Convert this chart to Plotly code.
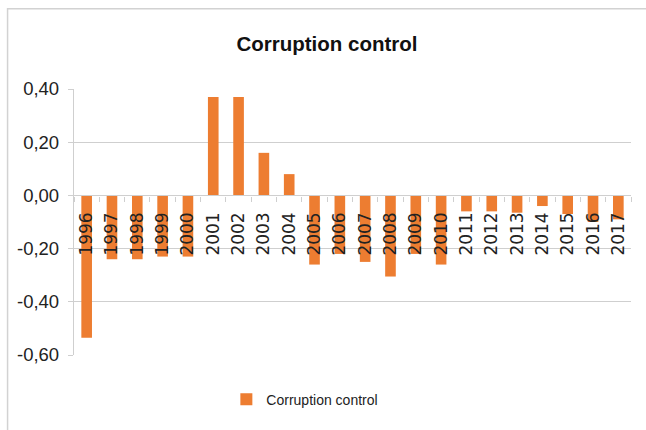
import plotly.graph_objects as go

years = [str(y) for y in range(1996, 2018)]
values = [-0.535, -0.24, -0.24, -0.23, -0.23, 0.37, 0.37, 0.16, 0.08, -0.26,
          -0.22, -0.25, -0.305, -0.22, -0.26, -0.06, -0.06, -0.065, -0.04,
          -0.07, -0.10, -0.09]
series_name = "Corruption control"
y_ticks = [0.4, 0.2, 0.0, -0.2, -0.4, -0.6]
y_tick_text = ["0,40", "0,20", "0,00", "-0,20", "-0,40", "-0,60"]

W, H = 646, 430
L, R, T, B = 73.5, 15, 89.3, 74.7
pw, ph = W - L - R, H - T - B

def px_x(p):
    return (p - L) / pw

def px_y(p):
    return (H - B - p) / ph

fig = go.Figure()
fig.add_trace(go.Bar(x=years, y=values, name=series_name,
                     marker=dict(color="#ED7D31", line=dict(width=0)),
                     showlegend=True))

grid = "#cfcfcf"
fig.update_layout(
    width=W, height=H,
    margin=dict(l=L, r=R, t=T, b=B, autoexpand=False),
    paper_bgcolor="white", plot_bgcolor="white",
    bargap=0.58,
    title=dict(text="<b>Corruption control</b>", xref="container", x=327 / W,
               xanchor="center", yref="container", y=1 - 44 / H, yanchor="middle",
               font=dict(family="Liberation Sans", size=20.5, color="#111111")),
    xaxis=dict(type="category", anchor="free", position=0.6, side="bottom",
               showline=True, linecolor=grid, linewidth=1.3,
               ticks="outside", tickson="boundaries", ticklen=5,
               tickcolor=grid, tickwidth=1.3,
               tickangle=-90, ticklabelstandoff=9,
               tickfont=dict(family="DejaVu Sans", size=17, color="#222222"),
               showgrid=False, zeroline=False),
    yaxis=dict(range=[-0.6, 0.4], tickvals=y_ticks, ticktext=y_tick_text,
               showline=True, linecolor=grid, linewidth=1.3,
               ticks="outside", ticklen=5, tickcolor=grid, tickwidth=1.3,
               showgrid=True, gridcolor=grid, gridwidth=1.3,
               zeroline=True, zerolinecolor=grid, zerolinewidth=1.3,
               ticklabelstandoff=5,
               tickfont=dict(family="Liberation Sans", size=18.5, color="#222222")),
    legend=dict(orientation="h", x=px_x(226), xanchor="left",
                y=px_y(400), yanchor="middle",
                font=dict(family="Liberation Sans", size=14, color="#222222"),
                bgcolor="rgba(0,0,0,0)"),
    shapes=[dict(type="rect", xref="paper", yref="paper",
                 x0=px_x(7), x1=px_x(700), y0=px_y(9), y1=px_y(480),
                 line=dict(color="#d2d2d2", width=1.5), fillcolor="rgba(0,0,0,0)",
                 layer="below")],
)

fig.write_html("out.html",
               config={"displayModeBar": False},
               post_script="document.body.style.margin='0';document.body.style.overflow='hidden';")
